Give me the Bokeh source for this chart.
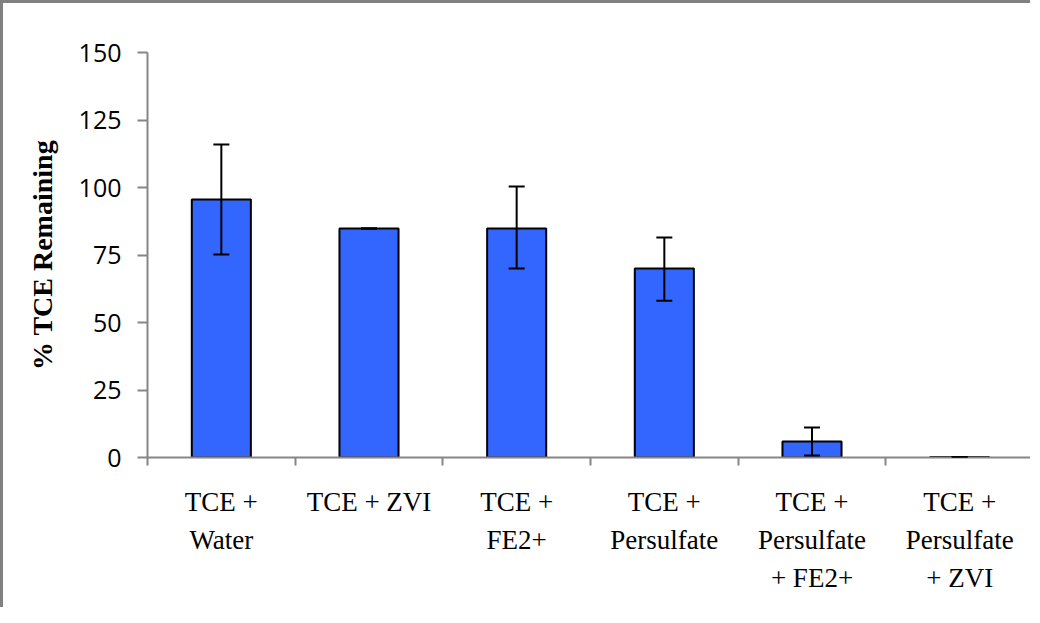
from bokeh.plotting import figure
from bokeh.models import Range1d, FixedTicker, ColumnDataSource, Whisker, TeeHead
from bokeh.embed import file_html
from bokeh.resources import INLINE

categories = ["TCE +\nWater", "TCE + ZVI", "TCE +\nFE2+", "TCE +\nPersulfate",
              "TCE +\nPersulfate\n+ FE2+", "TCE +\nPersulfate\n+ ZVI"]
values = [95.6, 84.8, 84.8, 70.0, 5.9, 0.2]
err_upper = [115.9, 84.8, 100.4, 81.5, 11.1, 0.2]
err_lower = [75.2, 84.8, 70.0, 58.1, 0.7, 0.2]
y_ticks = [0, 25, 50, 75, 100, 125, 150]
y_title = "% TCE Remaining"

centers = [i + 0.5 for i in range(len(categories))]
bounds = list(range(len(categories) + 1))

src = ColumnDataSource(dict(x=centers, top=values, upper=err_upper, lower=err_lower))

p = figure(width=1030, height=607, output_backend="svg", toolbar_location=None,
           x_range=Range1d(0, len(categories)), y_range=Range1d(0, 150),
           min_border_left=144, min_border_top=49, min_border_right=0, min_border_bottom=153)
p.styles = {"border-top": "3px solid #808080", "border-left": "3px solid #808080"}
p.outline_line_color = None
p.xgrid.visible = False
p.ygrid.visible = False
p.background_fill_color = "white"
p.border_fill_color = "white"

p.vbar(x="x", top="top", width=0.4, bottom=0, source=src,
       fill_color="#3366FF", line_color="black", line_width=2)

w = Whisker(source=src, base="x", upper="upper", lower="lower",
            line_color="black", line_width=2,
            upper_head=TeeHead(size=16, line_color="black", line_width=2),
            lower_head=TeeHead(size=16, line_color="black", line_width=2))
w.level = "overlay"
p.add_layout(w)

# x axis
xa = p.xaxis[0]
xa.ticker = FixedTicker(ticks=centers, minor_ticks=bounds)
xa.major_label_overrides = {c: lab for c, lab in zip(centers, categories)}
xa.major_tick_out = 0
xa.major_tick_in = 0
xa.minor_tick_out = 8
xa.minor_tick_in = 0
xa.minor_tick_line_color = "#868686"
xa.minor_tick_line_width = 2
xa.axis_line_color = "#868686"
xa.axis_line_width = 2
xa.major_label_text_font = "Liberation Serif"
xa.major_label_text_font_size = "27px"
xa.major_label_text_color = "black"
xa.major_label_text_line_height = 1.28
xa.major_label_standoff = 21

# y axis
ya = p.yaxis[0]
ya.ticker = FixedTicker(ticks=y_ticks)
ya.minor_tick_line_color = None
ya.major_tick_out = 10
ya.major_tick_in = 0
ya.major_tick_line_color = "#868686"
ya.major_tick_line_width = 2
ya.axis_line_color = "#868686"
ya.axis_line_width = 2
ya.major_label_text_font = "Open Sans"
ya.major_label_text_font_size = "25px"
ya.major_label_text_color = "black"
ya.major_label_standoff = 16
ya.axis_label = y_title
ya.axis_label_text_font = "Liberation Serif"
ya.axis_label_text_font_style = "bold"
ya.axis_label_text_font_size = "28px"
ya.axis_label_text_color = "black"
ya.axis_label_standoff = 18

open("out.html", "w").write(file_html(p, INLINE))
